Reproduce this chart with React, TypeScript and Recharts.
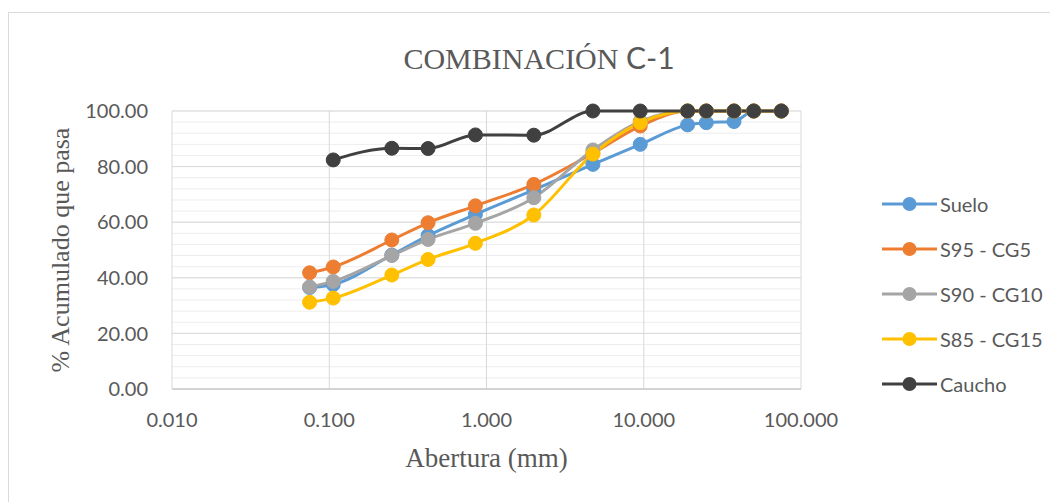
import { LineChart, Line, XAxis, YAxis, CartesianGrid, Legend, Label } from "recharts";

// tamices (mm)
const sizes = [0.075, 0.106, 0.25, 0.425, 0.85, 2.0, 4.75, 9.5, 19, 25, 37.5, 50, 75];

const suelo = [36.5, 37.6, 48.2, 55.2, 62.8, 71.6, 80.8, 88.0, 95.0, 95.8, 96.2, 100, 100];
const s95cg5 = [41.8, 43.9, 53.6, 59.8, 65.9, 73.6, 84.8, 94.6, 100, 100, 100, 100, 100];
const s90cg10 = [36.7, 38.7, 48.0, 53.8, 59.6, 68.8, 86.0, 96.3, 100, 100, 100, 100, 100];
const s85cg15 = [31.2, 32.7, 41.0, 46.6, 52.4, 62.6, 84.5, 95.8, 100, 100, 100, 100, 100];
const caucho = [null, 82.4, 86.6, 86.5, 91.4, 91.3, 100, 100, 100, 100, 100, 100, 100];

const xTicks = [0.01, 0.1, 1, 10, 100];
const yTicks = [0, 20, 40, 60, 80, 100];
const yMinorTicks = Array.from({ length: 26 }, (_, i) => i * 4);

const series = [
  { key: "suelo", name: "Suelo", color: "#5B9BD5", values: suelo },
  { key: "s95", name: "S95 - CG5", color: "#ED7D31", values: s95cg5 },
  { key: "s90", name: "S90 - CG10", color: "#A5A5A5", values: s90cg10 },
  { key: "s85", name: "S85 - CG15", color: "#FFC000", values: s85cg15 },
  { key: "caucho", name: "Caucho", color: "#404040", values: caucho },
];

const data = sizes.map((size, i) => {
  const row: any = { size };
  series.forEach((s) => (row[s.key] = s.values[i]));
  return row;
});

const TEXT = "#595959";
const SANS = "Lato, 'Open Sans', sans-serif";
const SERIF = "'Liberation Serif', 'Times New Roman', serif";

const CustomLegend = () => (
  <div>
    {series.map((s) => (
      <div key={s.key} style={{ display: "flex", alignItems: "center", height: 45 }}>
        <svg width={58} height={20}>
          <line x1={0} y1={10} x2={55} y2={10} stroke={s.color} strokeWidth={3} />
          <circle cx={27.5} cy={10} r={7} fill={s.color} />
        </svg>
        <span style={{ fontFamily: SANS, fontSize: 20, color: TEXT }}>{s.name}</span>
      </div>
    ))}
  </div>
);

const YTitle = ({ viewBox }: any) => {
  const cx = viewBox.x + 52;
  const cy = viewBox.y + viewBox.height / 2;
  return (
    <text
      x={cx}
      y={cy}
      transform={`rotate(-90 ${cx} ${cy})`}
      textAnchor="middle"
      dominantBaseline="central"
      fontFamily={SERIF}
      fontSize={26}
      fill={TEXT}
    >
      % Acumulado que pasa
    </text>
  );
};

export default function App() {
  return (
    <div style={{ position: "relative", width: 1050, height: 494, overflow: "hidden" }}>
      <div
        style={{
          position: "absolute",
          top: 4,
          left: 0,
          width: 1200,
          height: 600,
          borderTop: "1px solid #d9d9d9",
          borderLeft: "1px solid #d9d9d9",
        }}
      />
      <svg width={1050} height={100} style={{ position: "absolute", top: 0, left: 0 }}>
        <text x={531} y={61} textAnchor="middle" fill={TEXT} fontSize={30}>
          <tspan fontFamily={SERIF}>COMBINACIÓN </tspan>
          <tspan fontFamily={SANS}>C-1</tspan>
        </text>
      </svg>
      <div style={{ position: "absolute", top: 0, left: 0 }}>
        <LineChart width={1050} height={494} data={data} margin={{ top: 103, right: 257, bottom: 0, left: 0 }}>
          <CartesianGrid vertical={false} horizontalValues={yMinorTicks} stroke="#ededed" strokeWidth={1} />
          <CartesianGrid stroke="#d9d9d9" strokeWidth={1} />
          <XAxis
            dataKey="size"
            type="number"
            scale="log"
            domain={[0.01, 100]}
            ticks={xTicks}
            interval={0}
            allowDataOverflow
            height={113}
            tickLine={false}
            tickSize={6}
            tickMargin={18}
            axisLine={{ stroke: "#bfbfbf" }}
            tickFormatter={(v: number) => v.toFixed(3)}
            tick={{ fill: TEXT, fontSize: 20, fontFamily: SANS }}
          >
            <Label value="Abertura (mm)" position="insideBottom" offset={35} fill={TEXT} fontSize={27} fontFamily={SERIF} />
          </XAxis>
          <YAxis
            domain={[0, 100]}
            ticks={yTicks}
            interval={0}
            width={164}
            tickLine={false}
            axisLine={false}
            tickSize={6}
            tickMargin={18}
            tickFormatter={(v: number) => v.toFixed(2)}
            tick={{ fill: TEXT, fontSize: 20, fontFamily: SANS }}
          >
            <Label content={<YTitle />} />
          </YAxis>
          <Legend
            layout="horizontal"
            verticalAlign="middle"
            align="center"
            content={<CustomLegend />}
            wrapperStyle={{ position: "absolute", left: 874, top: 173, width: 180, height: 230 }}
          />
          {series.map((s) => (
            <Line
              key={s.key}
              dataKey={s.key}
              name={s.name}
              type="monotone"
              stroke={s.color}
              strokeWidth={3}
              dot={{ r: 7, fill: s.color, stroke: s.color, strokeWidth: 1 }}
              activeDot={false}
              isAnimationActive={false}
            />
          ))}
        </LineChart>
      </div>
    </div>
  );
}
